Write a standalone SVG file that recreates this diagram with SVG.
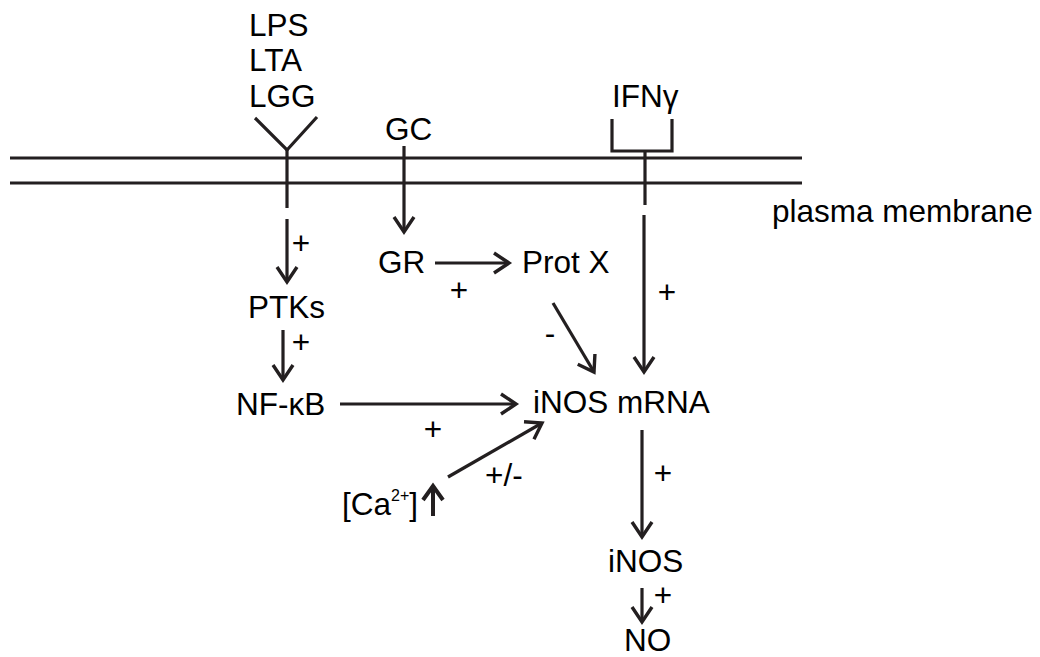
<svg xmlns="http://www.w3.org/2000/svg" width="1040" height="657" viewBox="0 0 1040 657">
<style>
text{font-family:"Liberation Sans",Arial,sans-serif;font-size:31.5px;fill:#000}
.l{stroke:#231f20;stroke-width:3.2;fill:none}
.c{text-anchor:middle}
</style>
<defs>
<marker id="ah" markerUnits="userSpaceOnUse" viewBox="-18 -12 20 24" refX="0" refY="0" markerWidth="20" markerHeight="24" orient="auto" overflow="visible">
<path d="M-15,-10 L0,0 L-15,10" fill="none" stroke="#231f20" stroke-width="3.4"/>
</marker>
</defs>
<rect width="1040" height="657" fill="#fff"/>
<g id="membrane">
<line class="l" x1="10" y1="158" x2="802" y2="158"/>
<line class="l" x1="10" y1="183" x2="802" y2="183"/>
<text x="772" y="222">plasma membrane</text>
</g>
<g id="lps">
<text x="249" y="36">LPS</text>
<text x="249" y="71">LTA</text>
<text x="249" y="107">LGG</text>
<polyline class="l" points="255,118 287,150 317,117"/>
<line class="l" x1="287" y1="150" x2="287" y2="208"/>
</g>
<g id="gc"><text x="385" y="140">GC</text></g>
<g id="ifn">
<text x="612" y="107">IFNγ</text>
<polyline class="l" points="612,119 612,151 672,151 672,119"/>
<line class="l" x1="645" y1="151" x2="645" y2="205"/>
</g>
<g id="gr"><text x="378" y="273">GR</text></g>
<g id="protx"><text x="522" y="273">Prot X</text></g>
<g id="ptks"><text x="248" y="318">PTKs</text></g>
<g id="nfkb"><text x="236" y="415">NF-κB</text></g>
<g id="mrna"><text x="533" y="413">iNOS mRNA</text></g>
<g id="ca">
<text x="342" y="515">[Ca<tspan font-size="16" dy="-14">2+</tspan><tspan dy="14">]</tspan></text>
<line x1="433" y1="516" x2="433" y2="487" stroke="#231f20" stroke-width="4"/>
<polyline points="423,500 433,486 443,500" fill="none" stroke="#231f20" stroke-width="4"/>
</g>
<g id="inos"><text x="608" y="572">iNOS</text></g>
<g id="no"><text x="624" y="651">NO</text></g>
<g id="connectors">
<line class="l" x1="287" y1="219" x2="287" y2="282" marker-end="url(#ah)"/>
<line class="l" x1="404" y1="146" x2="404" y2="232" marker-end="url(#ah)"/>
<line class="l" x1="435" y1="263" x2="509" y2="263" marker-end="url(#ah)"/>
<line class="l" x1="283" y1="330" x2="283" y2="380" marker-end="url(#ah)"/>
<line class="l" x1="340" y1="404" x2="516" y2="404" marker-end="url(#ah)"/>
<line class="l" x1="553" y1="303" x2="594" y2="372" marker-end="url(#ah)"/>
<line class="l" x1="644" y1="215" x2="644" y2="372" marker-end="url(#ah)"/>
<line class="l" x1="448" y1="477" x2="542" y2="423" marker-end="url(#ah)"/>
<line class="l" x1="642" y1="430" x2="642" y2="537" marker-end="url(#ah)"/>
<line class="l" x1="642" y1="588" x2="642" y2="622" marker-end="url(#ah)"/>
<text class="c" x="301" y="254">+</text>
<text class="c" x="459" y="301">+</text>
<text class="c" x="301" y="353">+</text>
<text class="c" x="433" y="440">+</text>
<text class="c" x="667" y="303">+</text>
<text class="c" x="550" y="344">-</text>
<text x="485" y="486">+/-</text>
<text class="c" x="663" y="484">+</text>
<text class="c" x="663" y="606">+</text>
</g>
</svg>
